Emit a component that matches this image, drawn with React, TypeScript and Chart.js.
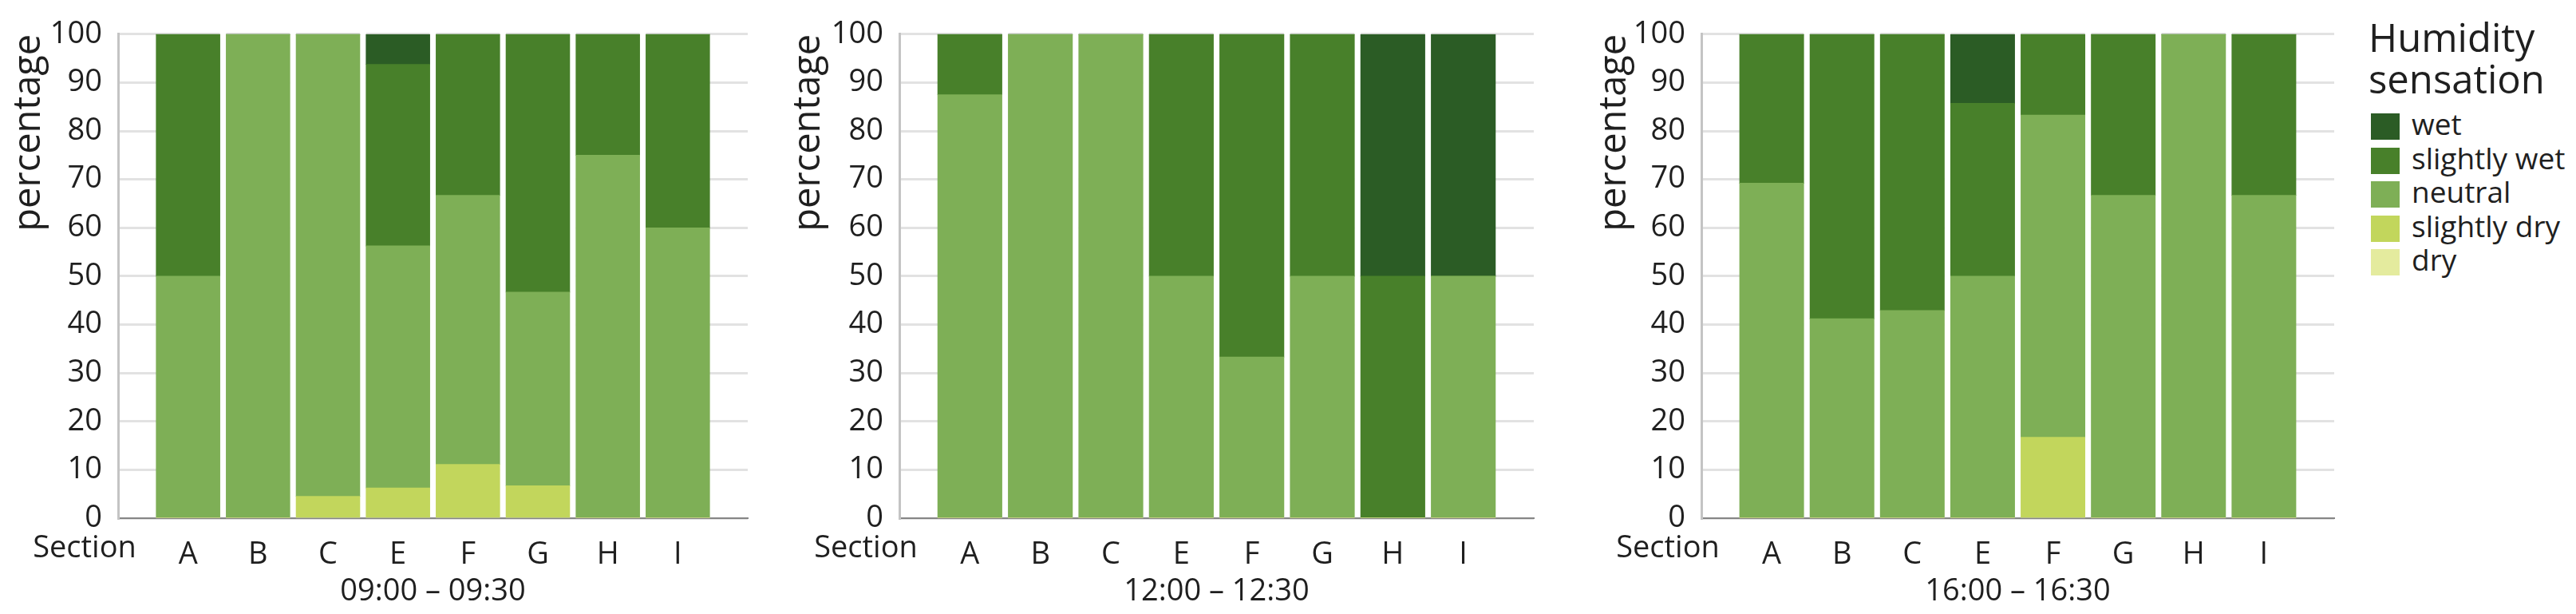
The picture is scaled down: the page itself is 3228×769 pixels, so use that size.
import React, { useEffect, useRef } from "react";
import { Chart, registerables } from "chart.js";

Chart.register(...registerables);

// ---------- data ----------
const sections = ["A", "B", "C", "E", "F", "G", "H", "I"];
const axisCategoryLabel = "Section";
const yAxisTitle = "percentage";
const legendTitle = ["Humidity", "sensation"];
const sensations = ["dry", "slightly dry", "neutral", "slightly wet", "wet"];
const sensationColors = ["#e4eb9e", "#c2d65c", "#7eaf56", "#48802a", "#2b5c25"];
const periods = ["09:00 – 09:30", "12:00 – 12:30", "16:00 – 16:30"];

// 09:00 – 09:30
const dry0900 = [0, 0, 0, 0, 0, 0, 0, 0];
const slightlyDry0900 = [0, 0, 4.5, 6.25, 11.1, 6.7, 0, 0];
const neutral0900 = [50, 100, 95.5, 50, 55.6, 40, 75, 60];
const slightlyWet0900 = [50, 0, 0, 37.5, 33.3, 53.3, 25, 40];
const wet0900 = [0, 0, 0, 6.25, 0, 0, 0, 0];

// 12:00 – 12:30
const dry1200 = [0, 0, 0, 0, 0, 0, 0, 0];
const slightlyDry1200 = [0, 0, 0, 0, 0, 0, 0, 0];
const neutral1200 = [87.5, 100, 100, 50, 33.3, 50, 0, 50];
const slightlyWet1200 = [12.5, 0, 0, 50, 66.7, 50, 50, 0];
const wet1200 = [0, 0, 0, 0, 0, 0, 50, 50];

// 16:00 – 16:30
const dry1600 = [0, 0, 0, 0, 0, 0, 0, 0];
const slightlyDry1600 = [0, 0, 0, 0, 16.7, 0, 0, 0];
const neutral1600 = [69.2, 41.2, 42.9, 50, 66.6, 66.7, 100, 66.7];
const slightlyWet1600 = [30.8, 58.8, 57.1, 35.7, 16.7, 33.3, 0, 33.3];
const wet1600 = [0, 0, 0, 14.3, 0, 0, 0, 0];

const yMin = 0;
const yMax = 100;
const yStep = 10;

const panelSeries = [
  [dry0900, slightlyDry0900, neutral0900, slightlyWet0900, wet0900],
  [dry1200, slightlyDry1200, neutral1200, slightlyWet1200, wet1200],
  [dry1600, slightlyDry1600, neutral1600, slightlyWet1600, wet1600],
];

// ---------- layout / style ----------
const FONT = '"Open Sans", "Noto Sans", sans-serif';
const TEXT = "#1f1f1f";
const H = 769;
const TOP = 27;
const XAXIS_H = 120;
const TICK_FONT = 38;
const X_TICK_PAD = 15;
const BAR_PCT = 0.91;

const panelLayout = [
  { left: 0, width: 980, padLeft: 8, axisX: 148, rightX: 937 },
  { left: 980, width: 1005, padLeft: 5, axisX: 1127, rightX: 1922 },
  { left: 1990, width: 960, padLeft: 5, axisX: 2132, rightX: 2925 },
];

// white separators between neighbouring bars (hide grid lines in the gaps)
const gapPlugin = {
  id: "barGaps",
  beforeDatasetsDraw(chart: any) {
    const { ctx, chartArea, scales } = chart;
    const xs = scales.x;
    const n = xs.getLabels().length;
    const step = xs.getPixelForValue(1) - xs.getPixelForValue(0);
    const gap = step * (1 - BAR_PCT);
    ctx.save();
    ctx.fillStyle = "#ffffff";
    for (let i = 1; i < n - 2; i++) {
      const mid = (xs.getPixelForValue(i) + xs.getPixelForValue(i + 1)) / 2;
      ctx.fillRect(mid - gap / 2, chartArea.top - 3, gap, chartArea.bottom - chartArea.top + 2);
    }
    ctx.restore();
  },
};

const sectionLabelPlugin = {
  id: "sectionLabel",
  afterDraw(chart: any) {
    const { ctx, chartArea, scales } = chart;
    const xs = scales.x;
    ctx.save();
    ctx.font = `${TICK_FONT}px ${FONT}`;
    ctx.fillStyle = TEXT;
    ctx.textAlign = "center";
    ctx.textBaseline = "middle";
    ctx.fillText(axisCategoryLabel, chartArea.left - 42, xs.top + X_TICK_PAD + (TICK_FONT * 1.2) / 2);
    ctx.restore();
  },
};

function Panel({ index }: { index: number }) {
  const ref = useRef<HTMLCanvasElement | null>(null);
  const lay = panelLayout[index];
  useEffect(() => {
    if (!ref.current) return;
    const labels = ["", ...sections, ""];
    const series = panelSeries[index];
    const datasets = sensations.map((name, i) => ({
      label: name,
      data: [null, ...series[i], null],
      backgroundColor: sensationColors[i],
      borderWidth: 0,
      inflateAmount: 0.4,
      barPercentage: BAR_PCT,
      categoryPercentage: 1,
    }));
    const yWidth = lay.axisX - lay.left - lay.padLeft;
    const chart = new Chart(ref.current, {
      type: "bar",
      data: { labels, datasets: datasets as any },
      options: {
        responsive: false,
        maintainAspectRatio: false,
        animation: false,
        devicePixelRatio: 1,
        layout: {
          padding: { top: TOP, bottom: 0, left: lay.padLeft, right: lay.left + lay.width - lay.rightX },
        },
        plugins: {
          legend: { display: false },
          tooltip: { enabled: false },
          title: { display: false },
        },
        scales: {
          x: {
            type: "category",
            stacked: true,
            offset: false,
            grid: { display: false },
            border: { display: true, color: "#858585", width: 2 },
            ticks: {
              autoSkip: false,
              maxRotation: 0,
              padding: X_TICK_PAD,
              color: TEXT,
              font: { family: FONT, size: TICK_FONT },
            },
            title: {
              display: true,
              text: periods[index],
              color: TEXT,
              font: { family: FONT, size: TICK_FONT },
              padding: { top: 0, bottom: 5 },
            },
            afterFit: (scale: any) => {
              scale.height = XAXIS_H;
            },
          },
          y: {
            stacked: true,
            min: yMin,
            max: yMax,
            grid: { color: "#e2e2e2", lineWidth: 3, drawTicks: false },
            border: { display: true, color: "#c4c4c4", width: 3 },
            ticks: {
              stepSize: yStep,
              padding: 20,
              color: TEXT,
              font: { family: FONT, size: TICK_FONT },
            },
            title: {
              display: true,
              text: yAxisTitle,
              align: "end",
              color: TEXT,
              font: { family: FONT, size: 47 },
              padding: { top: 0, bottom: 0 },
            },
            afterFit: (scale: any) => {
              scale.width = yWidth;
            },
          },
        },
      } as any,
      plugins: [gapPlugin, sectionLabelPlugin],
    });
    return () => chart.destroy();
  }, [index]);

  return (
    <canvas
      ref={ref}
      width={lay.width}
      height={H}
      style={{ position: "absolute", left: lay.left, top: 0, width: lay.width, height: H }}
    />
  );
}

function Legend() {
  const items = sensations.map((s, i) => ({ label: s, color: sensationColors[i] })).reverse();
  return (
    <>
      <div
        style={{
          position: "absolute",
          left: 2968,
          top: 20,
          fontSize: 49,
          lineHeight: "52px",
          color: TEXT,
          fontFamily: FONT,
          whiteSpace: "nowrap",
        }}
      >
        {legendTitle[0]}
        <br />
        {legendTitle[1]}
      </div>
      {items.map((it, i) => (
        <div
          key={it.label}
          style={{
            position: "absolute",
            left: 2971,
            top: 142 + i * 42.5,
            height: 33,
            display: "flex",
            alignItems: "center",
            whiteSpace: "nowrap",
          }}
        >
          <span style={{ display: "inline-block", width: 36, height: 33, background: it.color }} />
          <span
            style={{
              marginLeft: 15,
              fontSize: 37,
              lineHeight: "33px",
              color: TEXT,
              fontFamily: FONT,
              position: "relative",
              top: -4,
            }}
          >
            {it.label}
          </span>
        </div>
      ))}
    </>
  );
}

export default function App() {
  return (
    <div
      style={{
        position: "absolute",
        left: 0,
        top: 0,
        width: 3228,
        height: H,
        background: "#ffffff",
        overflow: "hidden",
      }}
    >
      {periods.map((_, i) => (
        <Panel key={i} index={i} />
      ))}
      <Legend />
    </div>
  );
}
